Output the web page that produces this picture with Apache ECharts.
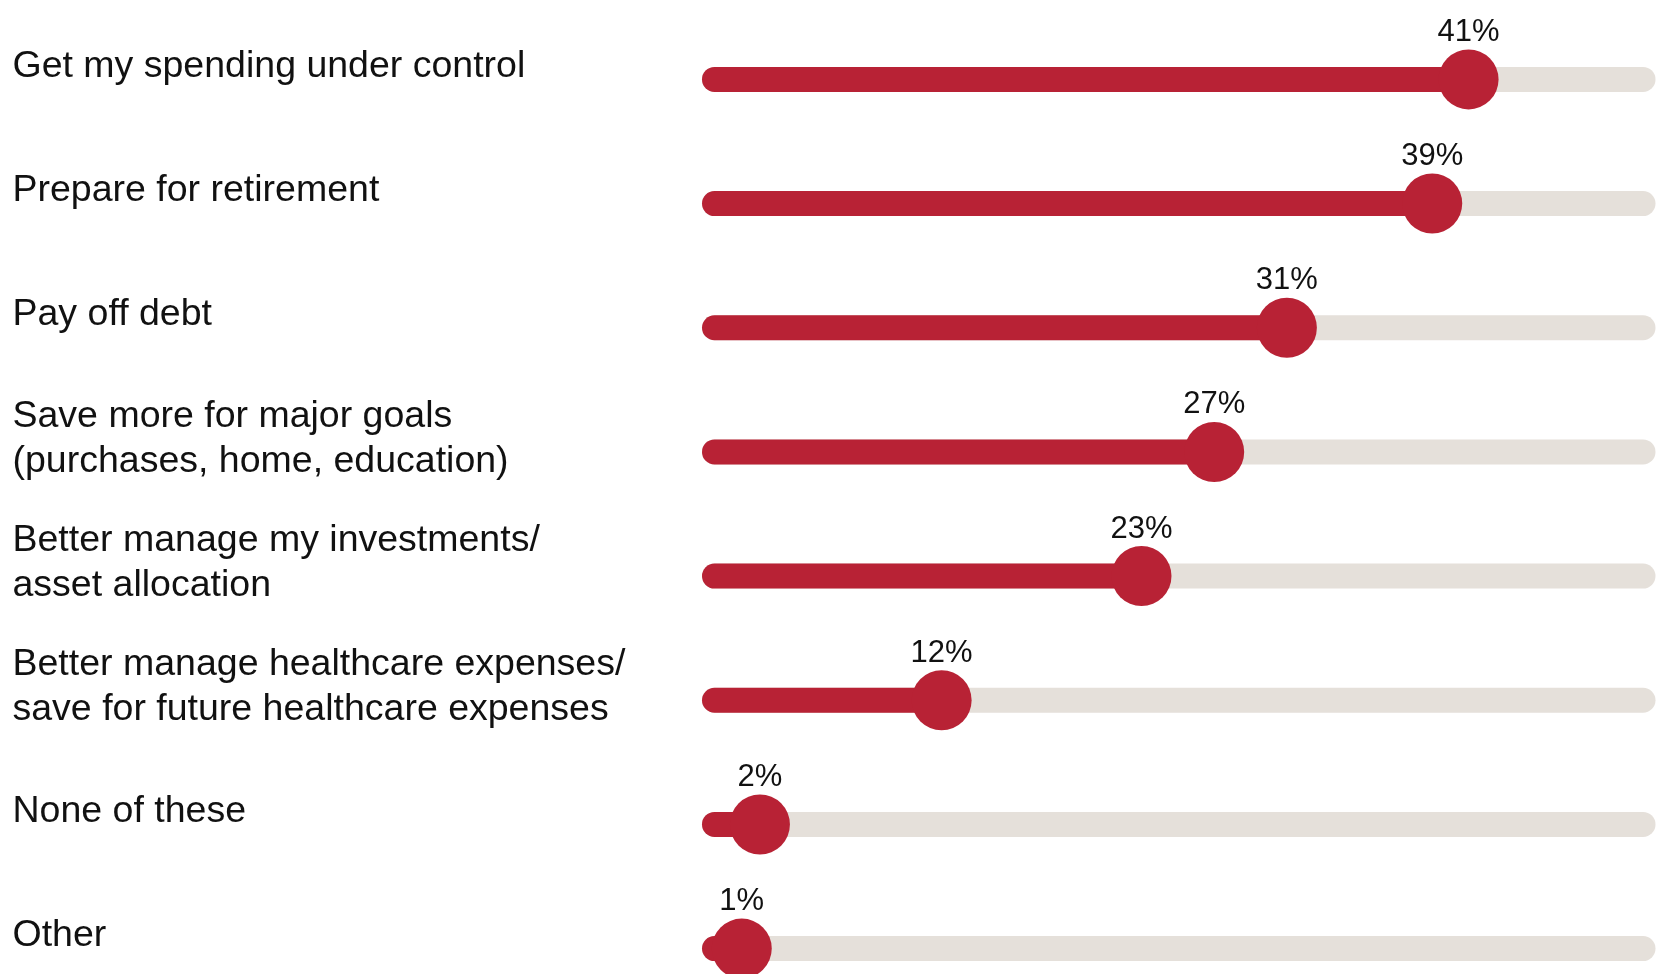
<!DOCTYPE html>
<html>
<head>
<meta charset="utf-8">
<script src="https://cdn.jsdelivr.net/npm/echarts@6/dist/echarts.min.js"></script>
<style>
html,body{margin:0;padding:0;background:#fff;}
#chart{width:1660px;height:974px;}
</style>
</head>
<body>
<div id="chart"></div>
<script>
const categories = [
  "Get my spending under control",
  "Prepare for retirement",
  "Pay off debt",
  "Save more for major goals\n(purchases, home, education)",
  "Better manage my investments/\nasset allocation",
  "Better manage healthcare expenses/\nsave for future healthcare expenses",
  "None of these",
  "Other"
];
const values = [41, 39, 31, 27, 23, 12, 2, 1];
const AXIS_MIN = -0.5;
const AXIS_MAX = 50.6;

const RED = '#B82235';
const TRACK = '#E5E0DA';
const FONT = '"Liberation Sans", Arial, Helvetica, sans-serif';

const chart = echarts.init(document.getElementById('chart'), null, {renderer: 'canvas'});

const seriesData = values.map((v, i) => [v, i]);

chart.setOption({
  animation: false,
  backgroundColor: '#ffffff',
  grid: {left: 714.5, right: 17, top: 79.4, bottom: 25.4, containLabel: false, outerBoundsMode: 'none'},
  xAxis: {
    type: 'value', min: AXIS_MIN, max: AXIS_MAX, show: false
  },
  yAxis: {
    type: 'category',
    data: categories,
    inverse: true,
    boundaryGap: false,
    axisLine: {show: false},
    axisTick: {show: false},
    splitLine: {show: false},
    axisLabel: {
      align: 'left',
      margin: 702,
      fontFamily: FONT,
      fontSize: 37.5,
      lineHeight: 44.5,
      color: '#111',
      verticalAlign: 'middle',
      formatter: function (v) { return v + '\n{s| }'; },
      rich: {
        s: {fontSize: 2, lineHeight: 26}
      }
    }
  },
  series: [{
    type: 'custom',
    data: seriesData,
    encode: {x: 0, y: 1},
    renderItem: function (params, api) {
      const v = api.value(0);
      const idx = api.value(1);
      const start = api.coord([AXIS_MIN, idx]);
      const end = api.coord([AXIS_MAX, idx]);
      const pt = api.coord([v, idx]);
      const y = pt[1];
      return {
        type: 'group',
        children: [
          {type: 'line', shape: {x1: start[0], y1: y, x2: end[0], y2: y},
           style: {stroke: TRACK, lineWidth: 25, lineCap: 'round'}},
          {type: 'line', shape: {x1: start[0], y1: y, x2: pt[0], y2: y},
           style: {stroke: RED, lineWidth: 25, lineCap: 'round'}},
          {type: 'circle', shape: {cx: pt[0], cy: y, r: 30},
           style: {fill: RED}},
          {type: 'text', x: pt[0], y: y - 47,
           style: {text: v + '%', fill: '#111', font: '31px ' + FONT,
                   align: 'center', verticalAlign: 'middle'}}
        ]
      };
    }
  }]
});
</script>
</body>
</html>
